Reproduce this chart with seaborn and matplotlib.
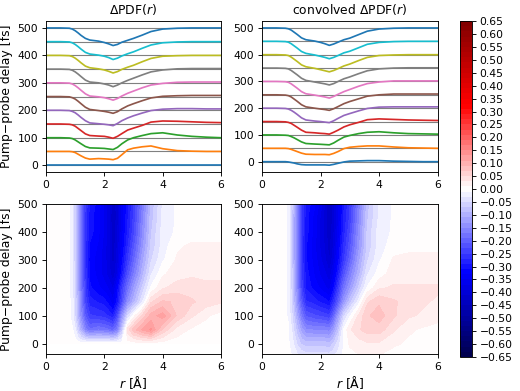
import numpy as np
import matplotlib
matplotlib.use('Agg')
import matplotlib.pyplot as plt
from matplotlib.ticker import FuncFormatter
import seaborn as sns

# radial grid [A]
r = [0, 0.5, 0.8, 0.9, 1.0, 1.1, 1.2, 1.35, 1.5, 1.8, 2.0, 2.15, 2.3, 2.45,
     2.6, 2.8, 3.0, 3.3, 3.6, 4.0, 4.5, 5.0, 5.5, 6.0]

# pump-probe delays [fs]
delays_raw = [0, 50, 100, 150, 200, 250, 300, 350, 400, 450, 500]
delays_conv = [-50, 0, 50, 100, 150, 200, 250, 300, 350, 400, 450, 500]

# trace offsets (= dPDF * 150)
raw_0 = [0] * 24
raw_50 = [0, 0, 0, -1, -4, -10, -16, -24, -28, -26, -27, -28, -30, -25, -12, 6, 12, 17, 20, 10, 3, 1, 0, 0]
raw_100 = [0, 0, -1, -3, -8, -15, -22, -32, -37, -38, -39, -41, -43, -35, -22, -8, 0, 8, 15, 18, 10, 5, 2, 0]
raw_150 = [0, 0, -1, -3, -8, -16, -24, -36, -42, -44, -45, -48, -52, -45, -35, -22, -15, -5, 7, 11, 10, 8, 6, 5]
raw_200 = [0, 0, -1, -4, -9, -17, -26, -38, -46, -49, -51, -53, -56, -48, -38, -28, -20, -10, -1, 4, 6, 6, 5, 5]
raw_250 = [0, 0, -1, -4, -9, -17, -26, -39, -47, -51, -54, -57, -61, -55, -45, -34, -26, -15, -5, 1, 3, 4, 4, 4]
raw_300 = [0, 0, -1, -4, -10, -18, -27, -40, -48, -51, -54, -58, -63, -57, -48, -38, -30, -18, -8, -2, 2, 3, 3, 3]
raw_350 = [0, 0, -1, -4, -10, -18, -27, -40, -47, -50, -54, -58, -64, -58, -50, -41, -33, -21, -10, -3, 1, 2, 2, 2]
raw_400 = [0, 0, -1, -4, -10, -18, -27, -39, -45, -49, -53, -58, -64, -59, -51, -43, -36, -23, -11, -3, -1, 0, 0, 0]
raw_450 = [0, 0, -1, -4, -10, -18, -27, -39, -45, -49, -53, -58, -65, -60, -52, -44, -37, -24, -12, -4, -1, 0, 0, 0]
raw_500 = [0, 0, -1, -4, -10, -18, -27, -38, -44, -48, -53, -58, -64, -60, -52, -45, -38, -26, -13, -4, -1, 0, 0, 0]

conv_m50 = [0, 0, 0, 0, -1, -2, -3, -4, -5, -5, -5, -5, -5, -4, -3, -1, 0, 1, 1, 1, 0, 0, 0, 0]
conv_0 = [0, 0, 0, -1, -3, -5, -8, -11, -12, -12, -12, -12, -13, -10, -6, -1, 2, 3, 4, 4, 2, 1, 0, 0]
conv_50 = [0, 0, 0, -1, -4, -8, -12, -18, -22, -23, -23, -23, -24, -19, -12, -1, 4, 7, 9, 9, 5, 2, 1, 0]
conv_100 = [0, 0, -1, -2, -6, -11, -17, -26, -32, -34, -35, -36, -37, -30, -20, -8, -2, 5, 10, 12, 8, 5, 4, 3]
conv_150 = [0, 0, -1, -3, -7, -14, -21, -32, -40, -42, -44, -45, -47, -40, -32, -20, -12, -3, 7, 10, 8, 6, 5, 4]
conv_200 = [0, 0, -1, -3, -8, -15, -23, -36, -44, -48, -50, -52, -54, -47, -38, -27, -20, -10, -1, 4, 5, 5, 5, 5]
conv_250 = [0, 0, -1, -3, -8, -16, -24, -37, -45, -50, -53, -55, -58, -52, -44, -33, -25, -15, -5, 0, 3, 3, 3, 3]
conv_300 = [0, 0, -1, -3, -9, -17, -25, -38, -46, -51, -55, -58, -62, -56, -48, -38, -30, -18, -8, -2, 2, 2, 2, 2]
conv_350 = [0, 0, -1, -3, -9, -17, -25, -38, -46, -52, -56, -59, -63, -58, -50, -40, -33, -21, -10, -3, 0, 1, 1, 1]
conv_400 = [0, 0, -1, -3, -9, -17, -25, -38, -45, -51, -56, -60, -64, -59, -52, -42, -35, -22, -10, -3, -1, 0, 0, 0]
conv_450 = [0, 0, -1, -3, -9, -17, -25, -38, -45, -51, -56, -60, -65, -60, -53, -43, -37, -24, -11, -4, -1, 0, 0, 0]
conv_500 = [0, 0, -1, -3, -8, -16, -24, -37, -44, -49, -54, -59, -65, -60, -53, -44, -38, -25, -12, -4, -1, 0, 0, 0]

trace_scale = 150

raw = np.array([raw_0, raw_50, raw_100, raw_150, raw_200, raw_250,
                raw_300, raw_350, raw_400, raw_450, raw_500]) / trace_scale
conv = np.array([conv_m50, conv_0, conv_50, conv_100, conv_150, conv_200, conv_250,
                 conv_300, conv_350, conv_400, conv_450, conv_500]) / trace_scale

levels = np.linspace(-0.65, 0.65, 66)
cbar_ticks = np.round(np.arange(-0.65, 0.651, 0.05), 2)

fig = plt.figure(figsize=(6.4, 4.8125), dpi=81.25)
ax_tl = fig.add_axes([0.0885, 0.560, 0.3365, 0.386])
ax_tr = fig.add_axes([0.5038, 0.560, 0.3377, 0.386])
ax_bl = fig.add_axes([0.0885, 0.0946, 0.3365, 0.3836])
ax_br = fig.add_axes([0.5038, 0.0946, 0.3377, 0.3836])
cax = fig.add_axes([0.8846, 0.087, 0.0225, 0.859])

colors = sns.color_palette('tab10', 10)

# waterfall plots
for ax, dl, data, title in [(ax_tl, delays_raw, raw, r'$\Delta$PDF($r$)'),
                            (ax_tr, delays_conv, conv, r'convolved $\Delta$PDF($r$)')]:
    i = 0
    for d, row in zip(dl, data):
        if d < 0:
            continue
        ax.axhline(d, color='gray', lw=1.0, zorder=1)
        sns.lineplot(x=r, y=d + row * trace_scale, ax=ax, color=colors[i % 10],
                     lw=1.5, zorder=2)
        i += 1
    ax.set_xlim(0, 6)
    ax.set_xticks([0, 2, 4, 6])
    ax.set_yticks([0, 100, 200, 300, 400, 500])
    ax.set_title(title, fontsize=11)
ax_tl.set_ylabel('Pump\u2212probe delay [fs]', fontsize=11)

# contour maps
cs = ax_bl.contourf(r, delays_raw, raw, levels=levels, cmap='seismic')
ax_br.contourf(r, delays_conv, conv, levels=levels, cmap='seismic')
for ax in [ax_bl, ax_br]:
    ax.set_xlim(0, 6)
    ax.set_ylim(-37, 500)
    ax.set_xticks([0, 2, 4, 6])
    ax.set_yticks([0, 100, 200, 300, 400, 500])
    ax.set_xlabel(r'$r$ [Å]', fontsize=11, labelpad=2)
ax_bl.set_ylabel('Pump\u2212probe delay [fs]', fontsize=11)

for ax in [ax_tl, ax_tr, ax_bl, ax_br]:
    ax.tick_params(labelsize=9.5)

cb = fig.colorbar(cs, cax=cax, ticks=cbar_ticks)
cb.ax.tick_params(labelsize=9.5)
cb.ax.yaxis.set_major_formatter(FuncFormatter(
    lambda v, p: ('%.2f' % abs(v)) if abs(v) < 0.001 else ('%.2f' % v).replace('-', '\u2212')))

plt.savefig('out.png', dpi=81.25)
